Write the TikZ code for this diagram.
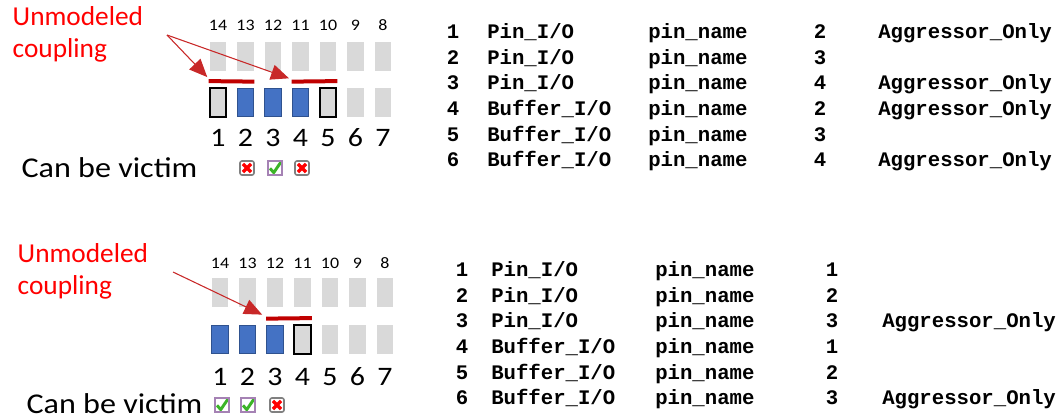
\documentclass[tikz,border=0pt]{standalone}
\usepackage{fontspec}
\setmainfont{Carlito}
\newfontfamily\widefont{Carlito}[FakeStretch=1.12]
\newfontfamily\tabfont{Liberation Mono}
\usetikzlibrary{arrows.meta}
\definecolor{padgray}{RGB}{217,217,217}
\definecolor{padblue}{RGB}{68,114,196}
\definecolor{padedge}{RGB}{47,82,143}
\definecolor{barred}{RGB}{192,0,0}
\definecolor{arrowred}{RGB}{200,40,40}
\definecolor{lblred}{RGB}{255,0,0}
\definecolor{okgreen}{RGB}{60,180,40}
\definecolor{okedge}{RGB}{165,130,180}
\begin{document}
\begin{tikzpicture}[x=0.75pt,y=-0.75pt,
  pad/.style={fill=padgray,minimum width=12.5pt,minimum height=21.5pt,inner sep=0pt},
  victim/.style={pad,fill=padblue,draw=padedge,line width=0.8pt},
  quiet/.style={pad,draw=black,line width=1.6pt},
  bar/.style={barred,line width=3pt},
  hint/.style={arrowred,line width=0.8pt,-{Triangle[length=13.5pt,width=11.5pt]}},
  redlbl/.style={lblred,align=left,anchor=west,font=\fontsize{20.5}{24}\selectfont},
  padnum/.style={font=\widefont\fontsize{20}{22}\selectfont},
  colnum/.style={font=\widefont\fontsize{12}{12}\selectfont},
  victimlbl/.style={anchor=west,inner sep=1pt,font=\widefont\fontsize{21.5}{24}\selectfont},
  cell/.style={anchor=west,inner sep=0pt,text height=10pt,text depth=0pt,font=\tabfont\bfseries\fontsize{15.5}{16}\selectfont},
  nobox/.style={draw=gray,line width=1.2pt,rounded corners=1.5pt,fill=white,minimum size=10.5pt,inner sep=0pt,
    path picture={
      \draw[white,line width=4pt] ([shift={(2.2pt,2.2pt)}]path picture bounding box.south west) -- ([shift={(-2.2pt,-2.2pt)}]path picture bounding box.north east)
        ([shift={(2.2pt,-2.2pt)}]path picture bounding box.north west) -- ([shift={(-2.2pt,2.2pt)}]path picture bounding box.south east);
      \draw[red,line width=2.5pt] ([shift={(2.2pt,2.2pt)}]path picture bounding box.south west) -- ([shift={(-2.2pt,-2.2pt)}]path picture bounding box.north east)
        ([shift={(2.2pt,-2.2pt)}]path picture bounding box.north west) -- ([shift={(-2.2pt,2.2pt)}]path picture bounding box.south east);}},
  okbox/.style={draw=okedge,line width=1pt,fill=white,minimum size=10.5pt,inner sep=0pt,
    path picture={
      \draw[okgreen,line width=2.2pt] ([shift={(1.5pt,5pt)}]path picture bounding box.south west) -- ([shift={(4.3pt,1.8pt)}]path picture bounding box.south west) -- ([shift={(-0.8pt,-0.8pt)}]path picture bounding box.north east);}}]
\useasboundingbox (0,0) rectangle (1058,419);

% upper case: pads 2..4 as victims
\node[redlbl] (lblA) at (8,34) {Unmodeled\\coupling};
\foreach \c/\k in {0/14,1/13,2/12,3/11,4/10,5/9,6/8} {
  \node[colnum] (kA\k) at (218+27.5*\c,25) {\k};
  \node[pad] (uA\k) at (218+27.5*\c,56.5) {};
}
\node[quiet] (tA1) at (218,102.5) {};
\node[victim] (tA2) at (245.5,102.5) {};
\node[victim] (tA3) at (273,102.5) {};
\node[victim] (tA4) at (300.5,102.5) {};
\node[quiet] (tA5) at (328,102.5) {};
\node[pad] (tA6) at (355.5,102.5) {};
\node[pad] (tA7) at (383,102.5) {};
\foreach \c in {1,...,7}
  \node[padnum] (nA\c) at (218+27.5*\c-27.5,138) {\c};
\coordinate (barA1) at ([yshift=4.5pt]tA1.north west);
\coordinate (barA2) at ([yshift=4.5pt]tA2.north east);
\coordinate (barA3) at ([yshift=4.5pt]tA4.north west);
\coordinate (barA4) at ([yshift=4.5pt]tA5.north east);
\draw[bar] (barA1) -- (barA2);
\draw[bar] (barA3) -- (barA4);
\coordinate (cplA) at (167,35);
\draw[hint] (cplA) -- ([shift={(-1pt,3pt)}]barA1);
\draw[hint] (cplA) -- ([shift={(-2pt,2.5pt)}]barA3);
\node[victimlbl] (vA) at (20,168) {Can be victim};
\node[nobox] (cA2) at (247,168) {};
\node[okbox] (cA3) at (275,168) {};
\node[nobox] (cA4) at (302,168) {};

% lower case: pads 1..3 as victims
\node[redlbl] (lblB) at (13,271) {Unmodeled\\coupling};
\foreach \c/\k in {0/14,1/13,2/12,3/11,4/10,5/9,6/8} {
  \node[colnum] (kB\k) at (220+27.5*\c,263) {\k};
  \node[pad] (uB\k) at (220+27.5*\c,292.5) {};
}
\node[victim] (tB1) at (220,339.5) {};
\node[victim] (tB2) at (247.5,339.5) {};
\node[victim] (tB3) at (275,339.5) {};
\node[quiet] (tB4) at (302.5,339.5) {};
\node[pad] (tB5) at (330,339.5) {};
\node[pad] (tB6) at (357.5,339.5) {};
\node[pad] (tB7) at (385,339.5) {};
\foreach \c in {1,...,7}
  \node[padnum] (nB\c) at (220+27.5*\c-27.5,377) {\c};
\coordinate (barB1) at ([yshift=4.5pt]tB3.north west);
\coordinate (barB2) at ([yshift=4.5pt]tB4.north east);
\draw[bar] (barB1) -- (barB2);
\coordinate (cplB) at (173,272);
\draw[hint] (cplB) -- ([shift={(-3pt,3pt)}]barB1);
\node[victimlbl] (vB) at (25,404) {Can be victim};
\node[okbox] (cB1) at (222,405) {};
\node[okbox] (cB2) at (248,405) {};
\node[nobox] (cB3) at (277,405) {};

% upper table
\foreach \i/\t/\n/\a in {1/Pin/2/Aggressor\_Only,2/Pin/3/,3/Pin/4/Aggressor\_Only,
    4/Buffer/2/Aggressor\_Only,5/Buffer/3/,6/Buffer/4/Aggressor\_Only} {
  \node[cell,anchor=center] (rA\i) at (453,{32+25.6*(\i-1)}) {\i};
  \node[cell] (sA\i) at (487,{32+25.6*(\i-1)}) {\t\_I/O};
  \node[cell] (pA\i) at (648,{32+25.6*(\i-1)}) {pin\_name};
  \node[cell,anchor=center] (mA\i) at (820,{32+25.6*(\i-1)}) {\n};
  \node[cell] (aA\i) at (878,{32+25.6*(\i-1)}) {\a};
}

% lower table
\foreach \i/\t/\n/\a in {1/Pin/1/,2/Pin/2/,3/Pin/3/Aggressor\_Only,
    4/Buffer/1/,5/Buffer/2/,6/Buffer/3/Aggressor\_Only} {
  \node[cell,anchor=center] (rB\i) at (462,{270+25.6*(\i-1)}) {\i};
  \node[cell] (sB\i) at (491,{270+25.6*(\i-1)}) {\t\_I/O};
  \node[cell] (pB\i) at (655,{270+25.6*(\i-1)}) {pin\_name};
  \node[cell,anchor=center] (mB\i) at (832,{270+25.6*(\i-1)}) {\n};
  \node[cell] (aB\i) at (882,{270+25.6*(\i-1)}) {\a};
}
\end{tikzpicture}
\end{document}
